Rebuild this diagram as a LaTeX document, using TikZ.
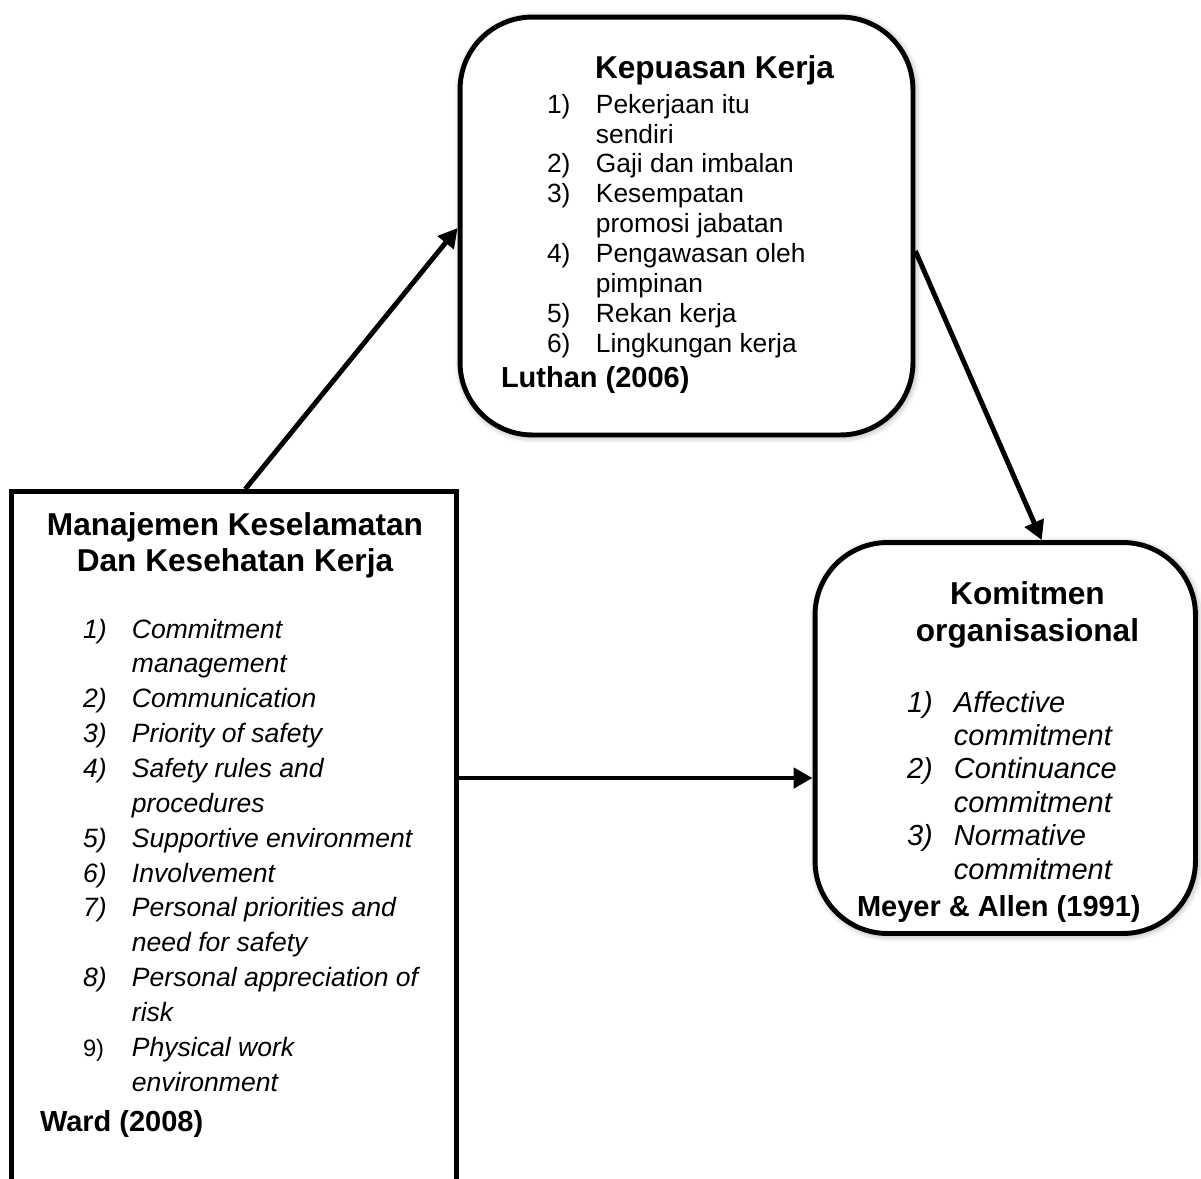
\documentclass[tikz,border=0pt]{standalone}
\usepackage{fontspec}
\setmainfont{Liberation Sans}
\usetikzlibrary{arrows.meta,shadows.blur,calc}

\tikzset{
  x=0.02cm, y=-0.02cm,
  roundbox/.style={draw, line width=2.8pt, rounded corners=1.45cm, fill=white,
    inner sep=0pt, outer sep=1.4pt,
    blur shadow={shadow xshift=0.8pt, shadow yshift=-0.8pt,
      shadow blur radius=4pt, shadow opacity=45}},
  squarebox/.style={draw, line width=2.8pt, fill=white, inner sep=0pt, outer sep=1.4pt},
  link/.style={line width=2.8pt, -{Triangle[length=0.38cm,width=0.4cm]}},
  txt/.style={anchor=base west, inner sep=0pt, outer sep=0pt},
  ctxt/.style={anchor=base, inner sep=0pt, outer sep=0pt},
}

\begin{document}
\begin{tikzpicture}
\clip (0,0) rectangle (1201,1178);

% boxes
\node[roundbox, minimum width=9.06cm, minimum height=8.36cm] (kk) at (686.5,226) {};
\node[roundbox, minimum width=7.61cm, minimum height=7.82cm] (ko) at (1005.25,738) {};
\node[squarebox, minimum width=8.91cm, minimum height=14.57cm] (lb) at (233.75,855.75) {};

% Kepuasan Kerja
\node[txt] (kt) at (595,78) {\fontsize{18}{21}\selectfont\bfseries Kepuasan Kerja};
\node[txt] (kl) at (547,113) {\fontsize{15}{17.07}\selectfont
  \begin{tabular}[t]{@{}p{0.98cm}@{}l@{}}
  1) & Pekerjaan itu\\
     & sendiri\\
  2) & Gaji dan imbalan\\
  3) & Kesempatan\\
     & promosi jabatan\\
  4) & Pengawasan oleh\\
     & pimpinan\\
  5) & Rekan kerja\\
  6) & Lingkungan kerja
  \end{tabular}};
\node[txt] (kc) at (501,387) {\fontsize{16.5}{19}\selectfont\bfseries Luthan (2006)};

% Manajemen Keselamatan dan Kesehatan Kerja
\node[ctxt] (lt) at (235,535) {\fontsize{18}{21}\selectfont\bfseries
  \begin{tabular}[t]{@{}c@{}}Manajemen Keselamatan\\Dan Kesehatan Kerja\end{tabular}};
\node[txt] (ll) at (83,638) {\fontsize{15.1}{19.84}\selectfont\itshape
  \begin{tabular}[t]{@{}p{0.98cm}@{}l@{}}
  1) & Commitment\\
     & management\\
  2) & Communication\\
  3) & Priority of safety\\
  4) & Safety rules and\\
     & procedures\\
  5) & Supportive environment\\
  6) & Involvement\\
  7) & Personal priorities and\\
     & need for safety\\
  8) & Personal appreciation of\\
     & risk\\
  {\upshape\fontsize{13.5}{15}\selectfont 9)} & Physical work\\
     & environment
  \end{tabular}};
\node[txt] (lc) at (40,1131) {\fontsize{16.5}{19}\selectfont\bfseries Ward (2008)};

% Komitmen organisasional
\node[ctxt] (ot) at (1027.5,604) {\fontsize{18}{21.5}\selectfont\bfseries
  \begin{tabular}[t]{@{}c@{}}Komitmen\\organisasional\end{tabular}};
\node[txt] (ol) at (907,712) {\fontsize{16.5}{19.05}\selectfont\itshape
  \begin{tabular}[t]{@{}p{0.94cm}@{}l@{}}
  1) & Affective\\
     & commitment\\
  2) & Continuance\\
     & commitment\\
  3) & Normative\\
     & commitment
  \end{tabular}};
\node[txt] (oc) at (857,916) {\fontsize{16.5}{19}\selectfont\bfseries Meyer \& Allen (1991)};

% connectors
\coordinate (h) at (0,778);
\draw[link] ([xshift=0.23cm]lb.north) -- ([yshift=-0.04cm]kk.west);
\draw[link] ([yshift=-0.5cm]kk.east) -- ([xshift=0.73cm]ko.north);
\draw[link] (lb.east |- h) -- (ko.west |- h);
\end{tikzpicture}
\end{document}
